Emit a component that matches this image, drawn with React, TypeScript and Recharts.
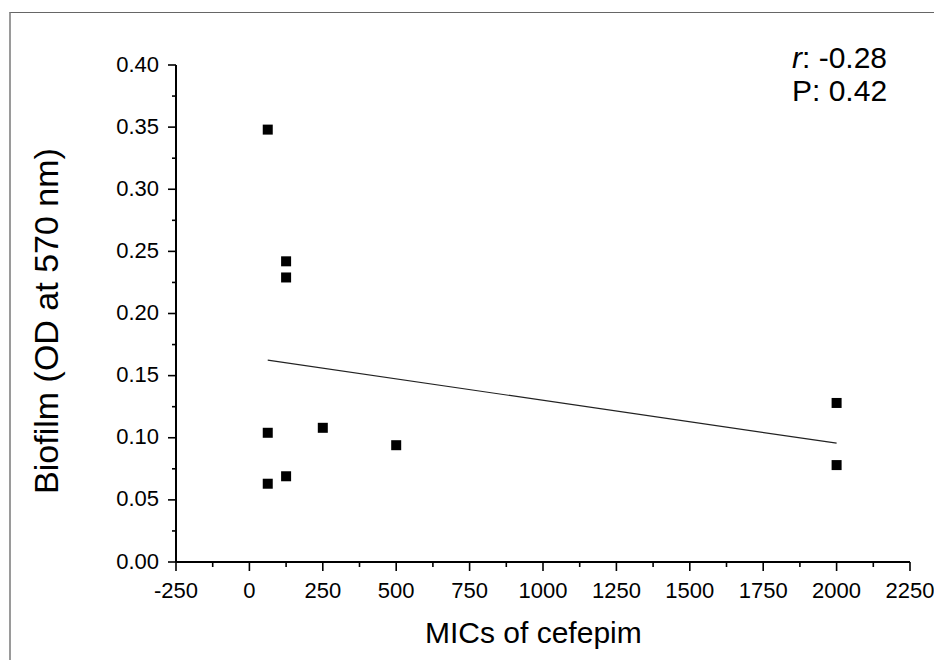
// Biofilm vs. cefepime MIC scatter with a least-squares fit line
import { Scatter, ScatterChart, XAxis, YAxis } from 'recharts'

// MIC values (x) and biofilm OD at 570 nm (y)
const micValues = [62.5, 125, 125, 62.5, 250, 500, 125, 62.5, 2000, 2000]
const biofilmValues = [0.348, 0.242, 0.229, 0.104, 0.108, 0.094, 0.069, 0.063, 0.128, 0.078]

// tick positions; majors get a label, the ones in between are minor ticks
const xTicks = [-250, -125, 0, 125, 250, 375, 500, 625, 750, 875, 1000, 1125, 1250, 1375, 1500, 1625, 1750, 1875, 2000, 2125, 2250]
const xMajor = [-250, 0, 250, 500, 750, 1000, 1250, 1500, 1750, 2000, 2250]
const yTicks = [0, 0.025, 0.05, 0.075, 0.1, 0.125, 0.15, 0.175, 0.2, 0.225, 0.25, 0.275, 0.3, 0.325, 0.35, 0.375, 0.4]
const yMajor = [0, 0.05, 0.1, 0.15, 0.2, 0.25, 0.3, 0.35, 0.4]

const corrR = '-0.28'
const corrP = '0.42'

const FONT = '"Liberation Sans", Arial, sans-serif'

const points = micValues.map((x, i) => ({ x, y: biofilmValues[i] }))

// linear regression over the points, drawn from min x to max x
function fitLine(data: { x: number; y: number }[]) {
  const n = data.length
  const mx = data.reduce((s, d) => s + d.x, 0) / n
  const my = data.reduce((s, d) => s + d.y, 0) / n
  let sxy = 0
  let sxx = 0
  data.forEach((d) => {
    sxy += (d.x - mx) * (d.y - my)
    sxx += (d.x - mx) * (d.x - mx)
  })
  const slope = sxy / sxx
  const x0 = Math.min(...data.map((d) => d.x))
  const x1 = Math.max(...data.map((d) => d.x))
  return [
    { x: x0, y: my + slope * (x0 - mx) },
    { x: x1, y: my + slope * (x1 - mx) },
  ]
}

const fit = fitLine(points)

function XTick(props: any) {
  const { x, y, payload } = props
  const major = xMajor.includes(payload.value)
  return (
    <g>
      <line x1={x} x2={x} y1={y} y2={y + (major ? 9 : 5)} stroke="#000" strokeWidth={1.6} />
      {major && (
        <text x={x} y={y + 20} dy="0.71em" textAnchor="middle" fontSize={22} fontFamily={FONT} fill="#000">
          {payload.value}
        </text>
      )}
    </g>
  )
}

function YTick(props: any) {
  const { x, y, payload } = props
  const major = yMajor.some((v) => Math.abs(v - payload.value) < 1e-9)
  return (
    <g>
      <line x1={x} x2={x - (major ? 8 : 4)} y1={y} y2={y} stroke="#000" strokeWidth={1.6} />
      {major && (
        <text x={x - 17} y={y} dy="0.3em" textAnchor="end" fontSize={22} fontFamily={FONT} fill="#000">
          {payload.value.toFixed(2)}
        </text>
      )}
    </g>
  )
}

function SquareDot(props: any) {
  const { cx, cy } = props
  return <rect x={cx - 5} y={cy - 5} width={10} height={10} fill="#000" />
}

export default function App() {
  return (
    <div style={{ position: 'absolute', left: 0, top: 0, width: 934, height: 660, background: '#fff', overflow: 'hidden' }}>
      {/* frame around the figure, only left and top edges are visible */}
      <div
        style={{
          position: 'absolute',
          left: 9,
          top: 12,
          width: 960,
          height: 700,
          borderLeft: '2px solid #9a9a9a',
          borderTop: '1px solid #666',
        }}
      />
      <div style={{ position: 'absolute', left: 0, top: 0 }}>
        <ScatterChart width={934} height={660} margin={{ top: 65, right: 24, bottom: 0, left: 0 }}>
          <XAxis
            type="number"
            dataKey="x"
            domain={[-250, 2250]}
            ticks={xTicks}
            interval={0}
            tickSize={0}
            tickMargin={0}
            tick={XTick}
            height={98}
            axisLine={{ stroke: '#000', strokeWidth: 2 }}
            allowDataOverflow
          />
          <YAxis
            type="number"
            dataKey="y"
            domain={[0, 0.4]}
            ticks={yTicks}
            interval={0}
            tickSize={0}
            tickMargin={0}
            tick={YTick}
            width={176}
            axisLine={{ stroke: '#000', strokeWidth: 2 }}
            allowDataOverflow
          />
          <Scatter data={fit} line={{ stroke: '#222', strokeWidth: 1.2 }} shape={() => null} isAnimationActive={false} />
          <Scatter data={points} shape={SquareDot} isAnimationActive={false} />
        </ScatterChart>
      </div>
      {/* axis titles and correlation note */}
      <svg width={934} height={660} style={{ position: 'absolute', left: 0, top: 0, pointerEvents: 'none' }}>
        <text x={425} y={643} fontSize={30} fontFamily={FONT} fill="#000">
          MICs of cefepim
        </text>
        <text transform="translate(58,321) rotate(-90)" textAnchor="middle" fontSize={34} fontFamily={FONT} fill="#000">
          Biofilm (OD at 570 nm)
        </text>
        <text x={792} y={68} fontSize={30} fontFamily={FONT} fill="#000">
          <tspan fontStyle="italic">r</tspan>: {corrR}
        </text>
        <text x={792} y={101} fontSize={30} fontFamily={FONT} fill="#000">
          P: {corrP}
        </text>
      </svg>
    </div>
  )
}
